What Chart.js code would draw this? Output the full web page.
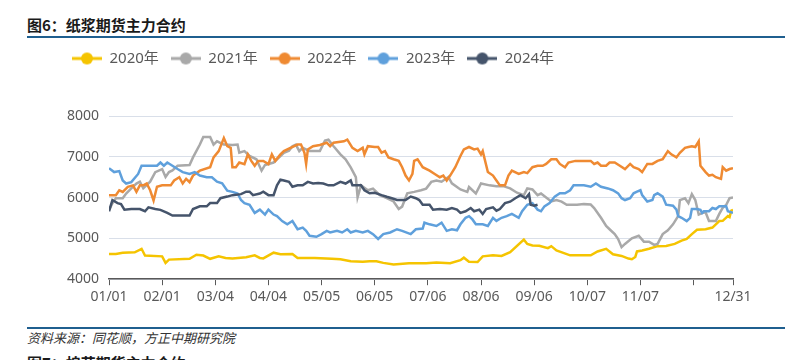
<!DOCTYPE html>
<html>
<head>
<meta charset="utf-8">
<script src="https://cdn.jsdelivr.net/npm/chart.js@4.4.1/dist/chart.umd.min.js"></script>
<style>
html, body { margin: 0; padding: 0; background: #fff; }
body { width: 810px; height: 360px; position: relative; overflow: hidden; font-family: "Noto Sans CJK SC", "Noto Sans", sans-serif; }
.title { position: absolute; left: 27px; font-size: 15px; line-height: 15px; font-weight: bold; color: #1a1a1a; white-space: nowrap; }
.rule { position: absolute; left: 27px; width: 758px; height: 2px; background: #1f5f8f; }
.source { position: absolute; left: 27px; top: 331px; font-size: 13px; line-height: 13px; font-style: italic; color: #333; }
#wrap { position: absolute; left: 0; top: 36px; width: 810px; height: 284px; }
</style>
</head>
<body>
<div class="title" style="top:17px">图6：纸浆期货主力合约</div>
<div class="rule" style="top:36px"></div>
<div id="wrap"><canvas id="pulpChart"></canvas></div>
<div class="rule" style="top:327px"></div>
<div class="source">资料来源：同花顺，方正中期研究院</div>
<div class="title" style="top:355px">图7：棉花期货主力合约</div>

<script>
// x 轴：按自然日 (0 = 01/01, 364 = 12/31)
const tickDays = [0, 31, 62, 93, 124, 155, 186, 217, 248, 279, 310, 341, 364];
const tickLabels = ['01/01', '02/01', '03/04', '04/04', '05/05', '06/05', '07/06', '08/06', '09/06', '10/07', '11/07', '', '12/31'];

const seriesNames = ['2020年', '2021年', '2022年', '2023年', '2024年'];
const seriesColors = ['#f5c400', '#a9a9a9', '#ef8a32', '#5fa0dc', '#45546b'];

// 2020年
const days2020 = [0, 4, 8, 15, 19, 21, 31, 33, 35, 47, 51, 55, 59, 64, 68, 72, 80, 85, 88, 90, 96, 100, 107, 110, 120, 130, 135, 141, 148, 152, 156, 160, 166, 175, 185, 191, 199, 205, 207, 210, 215, 218, 224, 229, 234, 242, 244, 247, 251, 256, 258, 261, 269, 281, 285, 290, 294, 299, 303, 305, 307, 308, 311, 315, 320, 325, 330, 334, 337, 340, 343, 348, 352, 354, 356, 358, 361, 362, 363, 364];
const vals2020 = [4617, 4620, 4650, 4660, 4745, 4580, 4560, 4400, 4480, 4500, 4600, 4580, 4500, 4560, 4520, 4510, 4540, 4585, 4520, 4510, 4650, 4610, 4620, 4520, 4520, 4500, 4490, 4440, 4430, 4440, 4440, 4400, 4360, 4393, 4393, 4410, 4390, 4465, 4528, 4430, 4420, 4560, 4585, 4570, 4665, 4970, 4865, 4825, 4820, 4760, 4810, 4705, 4585, 4585, 4680, 4745, 4610, 4570, 4505, 4490, 4545, 4680, 4705, 4745, 4810, 4815, 4865, 4945, 4985, 5105, 5210, 5225, 5265, 5345, 5425, 5430, 5545, 5520, 5680, 5700];

// 2021年
const days2021 = [0, 2, 4, 8, 10, 13, 16, 18, 20, 24, 27, 31, 33, 35, 37, 40, 47, 49, 53, 55, 59, 61, 63, 67, 72, 75, 76, 79, 82, 86, 89, 91, 96, 102, 105, 107, 109, 111, 113, 117, 123, 126, 128, 131, 135, 138, 141, 144, 145, 147, 151, 154, 158, 162, 166, 169, 171, 174, 178, 182, 185, 188, 191, 194, 198, 200, 205, 209, 210, 214, 217, 222, 226, 230, 234, 238, 242, 244, 247, 250, 252, 255, 258, 261, 264, 267, 273, 277, 281, 283, 287, 290, 292, 295, 297, 299, 301, 305, 309, 312, 315, 318, 320, 323, 326, 329, 332, 333, 336, 338, 340, 342, 344, 346, 348, 350, 354, 356, 358, 360, 362, 364];
const vals2021 = [5690, 5860, 5985, 5985, 6100, 6225, 6345, 6390, 6230, 6390, 6625, 6700, 6505, 6625, 6665, 6780, 6800, 6985, 7300, 7487, 7487, 7300, 7380, 7300, 7290, 7300, 7100, 7140, 7020, 6940, 6660, 6800, 6860, 7100, 7150, 7260, 7300, 7140, 7220, 7140, 7140, 7400, 7420, 7260, 7060, 6940, 6740, 6500, 6005, 6300, 6180, 6220, 6060, 5985, 5905, 5720, 5780, 6105, 6140, 6180, 6220, 6385, 6420, 6390, 6505, 6350, 6200, 6140, 6260, 6100, 6345, 6300, 6280, 6280, 6225, 6120, 6060, 6225, 6200, 6060, 6100, 6005, 5905, 5940, 5900, 5825, 5825, 5840, 5830, 5745, 5505, 5305, 5225, 5105, 4985, 4785, 4865, 5000, 5065, 4920, 4920, 4840, 4865, 5105, 5200, 5345, 5545, 5940, 5985, 5865, 6085, 5940, 5585, 5620, 5640, 5425, 5425, 5600, 5750, 5820, 5985, 6000];

// 2022年
const days2022 = [0, 4, 6, 8, 11, 14, 16, 18, 20, 22, 24, 26, 28, 31, 36, 38, 41, 43, 45, 47, 49, 53, 59, 61, 64, 67, 69, 71, 72, 74, 76, 79, 81, 83, 85, 87, 90, 93, 95, 97, 100, 102, 104, 110, 112, 114, 115, 116, 119, 123, 127, 129, 131, 137, 139, 142, 145, 148, 149, 151, 155, 157, 159, 161, 163, 166, 169, 171, 173, 175, 177, 178, 180, 183, 187, 190, 193, 195, 197, 199, 202, 205, 207, 210, 213, 215, 217, 218, 221, 224, 226, 228, 231, 233, 235, 239, 242, 244, 247, 250, 253, 255, 258, 261, 263, 266, 268, 272, 281, 283, 285, 287, 290, 292, 295, 298, 301, 304, 306, 309, 311, 314, 317, 320, 323, 326, 328, 331, 333, 336, 338, 340, 342, 344, 345, 348, 350, 352, 354, 357, 358, 360, 362, 364];
const vals2022 = [6060, 6060, 6180, 6140, 6265, 6300, 6140, 6300, 6300, 6345, 6180, 5930, 6265, 6300, 6300, 6420, 6500, 6345, 6460, 6380, 6540, 6660, 6745, 6985, 7140, 7460, 7260, 7220, 6745, 6745, 6860, 6820, 7060, 6900, 6780, 6900, 6900, 6820, 7060, 6900, 7060, 7140, 7180, 7300, 7300, 7100, 6825, 7180, 7260, 7290, 7345, 7260, 7345, 7380, 7420, 7220, 7140, 7220, 7060, 7260, 7240, 7240, 7100, 7140, 6985, 6940, 6900, 6745, 6540, 6420, 6580, 6900, 6940, 6745, 6660, 6580, 6500, 6540, 6420, 6540, 6745, 7020, 7180, 7240, 7180, 7200, 7060, 7140, 6625, 6540, 6420, 6300, 6300, 6540, 6660, 6580, 6625, 6600, 6745, 6780, 6780, 6825, 6940, 6940, 6825, 6745, 6860, 6900, 6900, 6825, 6860, 6780, 6780, 6860, 6860, 6780, 6700, 6825, 6745, 6700, 6625, 6825, 6825, 6900, 6940, 7140, 7060, 6985, 7100, 7220, 7240, 7260, 7240, 7380, 6780, 6625, 6540, 6560, 6500, 6460, 6745, 6660, 6700, 6720];

// 2023年
const days2023 = [0, 3, 6, 8, 10, 13, 17, 19, 28, 30, 32, 34, 37, 40, 43, 47, 50, 53, 57, 60, 63, 66, 69, 72, 75, 77, 79, 82, 85, 88, 91, 93, 96, 98, 101, 104, 107, 110, 113, 115, 117, 121, 124, 127, 129, 133, 136, 139, 141, 144, 148, 151, 154, 157, 160, 164, 168, 171, 176, 179, 183, 184, 187, 191, 194, 197, 200, 203, 205, 208, 210, 212, 214, 218, 221, 224, 226, 229, 232, 235, 239, 241, 244, 247, 250, 252, 254, 257, 260, 263, 266, 269, 271, 277, 281, 284, 287, 291, 294, 297, 299, 301, 304, 306, 308, 310, 311, 314, 317, 318, 320, 323, 325, 329, 331, 332, 334, 337, 339, 340, 343, 345, 346, 347, 350, 352, 354, 356, 360, 361, 364];
const vals2023 = [6720, 6625, 6650, 6420, 6345, 6380, 6580, 6780, 6780, 6860, 6780, 6860, 6780, 6700, 6625, 6580, 6625, 6540, 6500, 6500, 6390, 6350, 6170, 6140, 6100, 5940, 5865, 5825, 5625, 5705, 5585, 5705, 5585, 5545, 5425, 5345, 5425, 5225, 5265, 5185, 5065, 5040, 5105, 5185, 5145, 5185, 5145, 5225, 5145, 5185, 5145, 5185, 5105, 4985, 5105, 5145, 5225, 5185, 5105, 5225, 5240, 5385, 5345, 5305, 5385, 5185, 5225, 5200, 5345, 5505, 5545, 5465, 5345, 5345, 5305, 5505, 5430, 5505, 5545, 5600, 5505, 5665, 5825, 5865, 5705, 5665, 5785, 5865, 6025, 6105, 6105, 6180, 6300, 6300, 6265, 6345, 6265, 6225, 6180, 6105, 5985, 5940, 5985, 6105, 6145, 6180, 6060, 5905, 5940, 6060, 6105, 6025, 5825, 5800, 5705, 5545, 5505, 5425, 5505, 5720, 5720, 5700, 5625, 5665, 5665, 5745, 5720, 5785, 5785, 5665, 5625];

// 2024年（至 9 月上旬）
const days2024 = [0, 2, 5, 7, 9, 13, 18, 21, 23, 27, 30, 34, 37, 47, 49, 53, 57, 59, 63, 65, 69, 72, 77, 80, 82, 84, 88, 90, 93, 96, 98, 100, 102, 105, 107, 110, 113, 116, 119, 122, 125, 128, 131, 135, 138, 141, 142, 145, 147, 149, 152, 155, 159, 162, 165, 168, 173, 176, 179, 181, 183, 187, 189, 193, 197, 200, 203, 205, 208, 211, 213, 216, 218, 220, 224, 226, 228, 231, 234, 237, 240, 243, 245, 246, 248, 250];
const vals2024 = [5665, 5940, 5865, 5840, 5705, 5720, 5720, 5665, 5760, 5720, 5700, 5625, 5560, 5560, 5720, 5785, 5785, 5865, 5865, 5985, 6025, 6060, 6085, 6145, 6145, 6060, 6100, 6145, 6060, 6060, 6300, 6440, 6420, 6385, 6265, 6300, 6300, 6385, 6345, 6360, 6345, 6300, 6300, 6385, 6345, 6420, 6300, 6300, 6300, 6180, 6105, 6120, 6060, 6020, 5985, 5940, 5940, 6025, 5985, 5940, 5825, 5825, 5705, 5720, 5705, 5745, 5705, 5625, 5665, 5745, 5665, 5705, 5600, 5720, 5760, 5680, 5720, 5865, 5900, 5985, 6060, 5985, 6085, 5825, 5800, 5825];

const allDays = [days2020, days2021, days2022, days2023, days2024];
const allVals = [vals2020, vals2021, vals2022, vals2023, vals2024];

// 图例标记：横线 + 圆点
function makeMarker(color) {
    const c = document.createElement('canvas');
    c.width = 30;
    c.height = 14;
    const g = c.getContext('2d');
    g.strokeStyle = color;
    g.lineWidth = 3;
    g.beginPath();
    g.moveTo(0, 7);
    g.lineTo(30, 7);
    g.stroke();
    g.fillStyle = color;
    g.beginPath();
    g.arc(15, 7, 6, 0, Math.PI * 2);
    g.fill();
    return c;
}

// 图例与绘图区之间留白
const legendGap = {
    id: 'legendGap',
    afterInit(chart) {
        const fit = chart.legend.fit;
        chart.legend.fit = function () {
            fit.call(this);
            this.height += 40;
        };
    }
};

Chart.defaults.font.family = "'Noto Sans', 'Noto Sans CJK SC', sans-serif";
Chart.defaults.color = '#595959';

const datasets = seriesNames.map((name, i) => ({
    label: name,
    data: allDays[i].map((d, j) => ({ x: d, y: allVals[i][j] })),
    borderColor: seriesColors[i],
    backgroundColor: seriesColors[i],
    borderWidth: 2.5,
    pointRadius: 0,
    pointHoverRadius: 0,
    pointStyle: makeMarker(seriesColors[i]),
    tension: 0,
    fill: false,
    order: seriesNames.length - 1 - i   // 后面的年份画在上层
}));

new Chart(document.getElementById('pulpChart'), {
    type: 'line',
    data: { datasets },
    plugins: [legendGap],
    options: {
        responsive: true,
        maintainAspectRatio: false,
        animation: false,
        layout: { padding: { left: 60, right: 77, top: 3, bottom: 12 } },
        plugins: {
            legend: {
                position: 'top',
                align: 'start',
                labels: {
                    usePointStyle: true,
                    pointStyleWidth: 30,
                    boxHeight: 14,
                    padding: 12,
                    color: '#595959',
                    font: { size: 15 },
                    sort: (a, b) => a.datasetIndex - b.datasetIndex
                }
            },
            tooltip: { enabled: false }
        },
        scales: {
            x: {
                type: 'linear',
                min: 0,
                max: 364,
                afterBuildTicks: (axis) => {
                    axis.ticks = tickDays.map(v => ({ value: v }));
                },
                ticks: {
                    autoSkip: false,
                    maxRotation: 0,
                    padding: 3,
                    color: '#595959',
                    font: { size: 14 },
                    callback: (value, index) => tickLabels[index]
                },
                grid: {
                    drawOnChartArea: false,
                    drawTicks: true,
                    tickLength: 6,
                    tickColor: '#595959',
                    tickWidth: 1
                },
                border: { display: true, color: '#595959', width: 1.5 }
            },
            y: {
                min: 4000,
                max: 8000,
                afterFit: (axis) => { axis.width = 49; },
                ticks: {
                    stepSize: 1000,
                    padding: 10,
                    color: '#595959',
                    font: { size: 14 },
                    callback: (value) => String(value)
                },
                grid: { color: '#d9dfe9', lineWidth: 1, drawTicks: false },
                border: { display: false }
            }
        }
    }
});
</script>
</body>
</html>
